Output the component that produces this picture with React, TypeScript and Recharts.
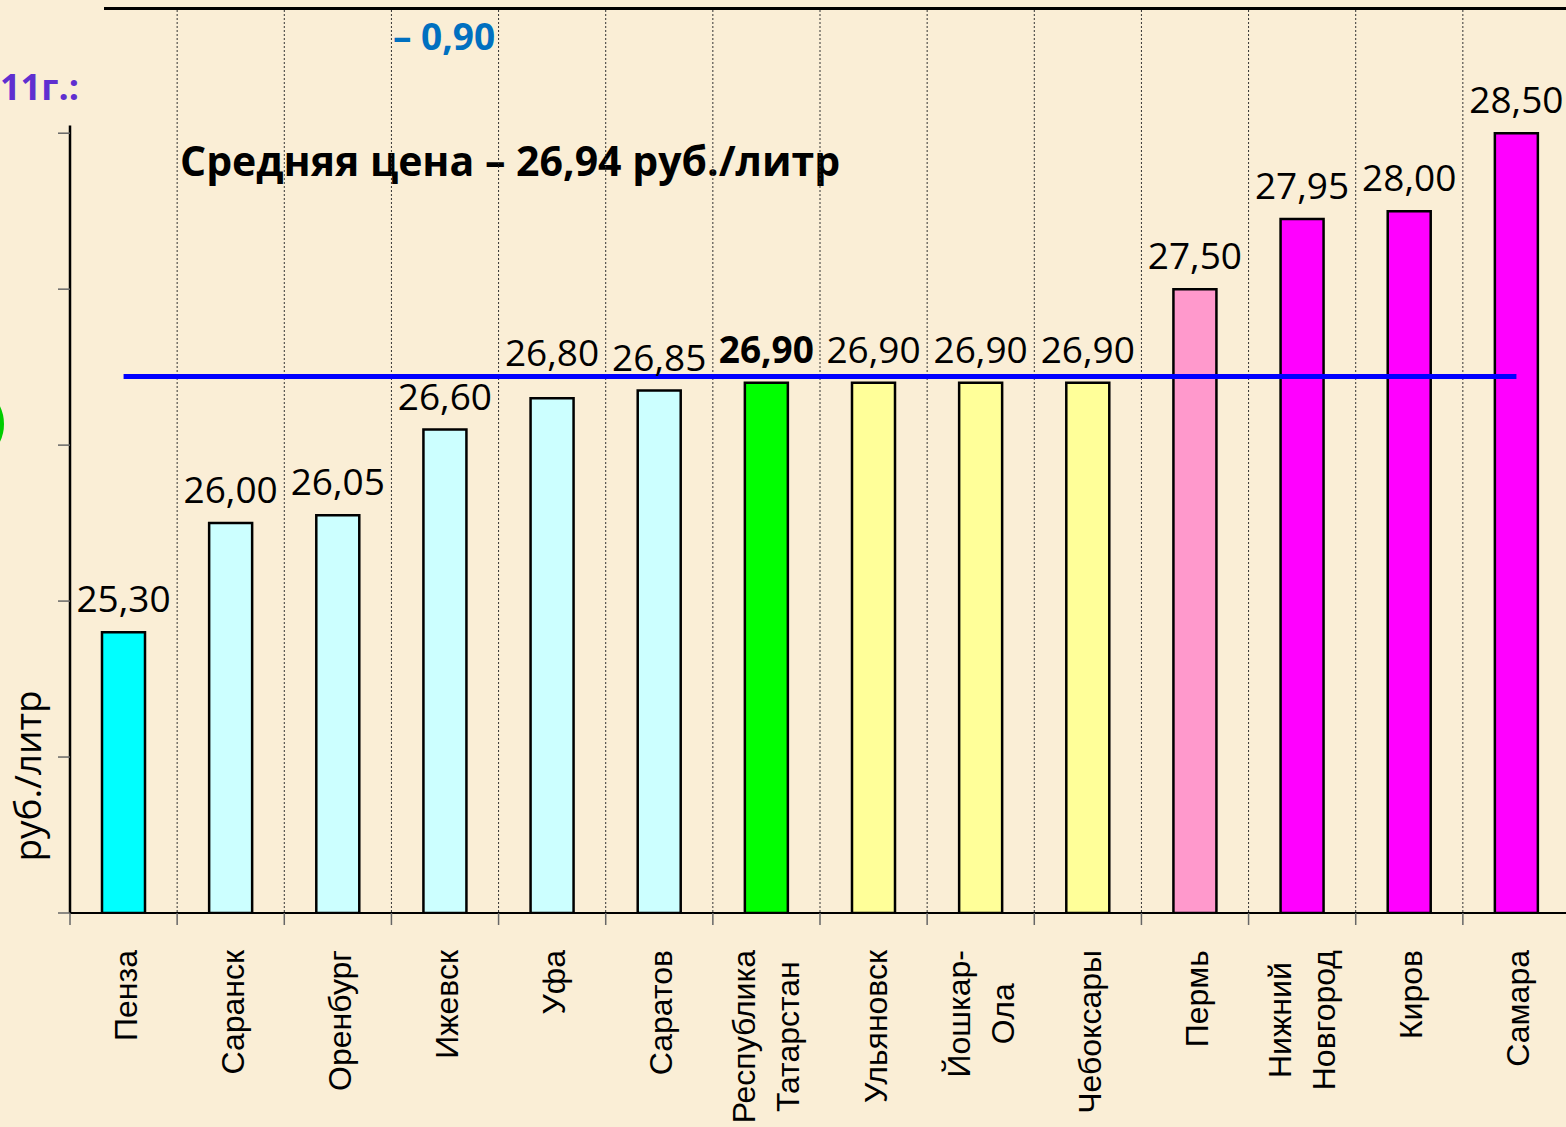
import React from "react";
import {
  BarChart,
  Bar,
  Cell,
  XAxis,
  YAxis,
  CartesianGrid,
  ReferenceLine,
  LabelList,
} from "recharts";

// regions (left to right) and average milk price, руб./литр
const categories = [
  "Пенза",
  "Саранск",
  "Оренбург",
  "Ижевск",
  "Уфа",
  "Саратов",
  "Республика Татарстан",
  "Ульяновск",
  "Йошкар-Ола",
  "Чебоксары",
  "Пермь",
  "Нижний Новгород",
  "Киров",
  "Самара",
];
const prices = [
  25.3, 26.0, 26.05, 26.6, 26.8, 26.85, 26.9, 26.9, 26.9, 26.9, 27.5, 27.95,
  28.0, 28.5,
];
const barColors = [
  "#00FFFF",
  "#CCFFFF",
  "#CCFFFF",
  "#CCFFFF",
  "#CCFFFF",
  "#CCFFFF",
  "#00FF00",
  "#FFFF99",
  "#FFFF99",
  "#FFFF99",
  "#FF99CC",
  "#FF00FF",
  "#FF00FF",
  "#FF00FF",
];

const averagePrice = 26.94;
const boldCategory = "Республика Татарстан";
const yTicks = [23.5, 24.5, 25.5, 26.5, 27.5, 28.5];
const yDomainMin = 23.5;
const yDomainMax = 29.29;
const yAxisLineTop = 28.55;

const data = categories.map((name, i) => ({
  name,
  price: prices[i],
  color: barColors[i],
}));

const fmt = (v: number) => v.toFixed(2).replace(".", ",");

const CHART_W = 1570;
const Y_AXIS_W = 70;
const STEP = (CHART_W - Y_AXIS_W) / categories.length;

const BG = "#FAEED6";
const LABEL_FONT = "'Open Sans', sans-serif";
const TICK_FONT = "'Liberation Sans', Arial, sans-serif";

let measureCtx: CanvasRenderingContext2D | null = null;
const measure = (s: string, font: string) => {
  if (!measureCtx) measureCtx = document.createElement("canvas").getContext("2d");
  if (!measureCtx) return s.length * 17;
  measureCtx.font = font;
  return measureCtx.measureText(s).width;
};

const splitLabel = (name: string) => {
  if (name.includes(" ")) return name.split(" ");
  if (name.includes("-")) {
    const [a, b] = name.split("-");
    return [a + "-", b];
  }
  return [name];
};

const CategoryTick = (props: any) => {
  const { x, y, payload, index } = props;
  const lines = splitLabel(String(payload.value));
  const top = y + 37;
  const left = x - STEP / 2;
  const marks = [left];
  if (index === categories.length - 1) marks.push(left + STEP);
  const tickMarks = marks.map((mx) => (
    <line
      key={mx}
      x1={mx}
      y1={y}
      x2={mx}
      y2={y + 12}
      stroke="#666"
      strokeWidth={1.5}
    />
  ));
  if (lines.length === 1) {
    return (
      <g>
        {tickMarks}
        <text
          x={x + 2}
          y={top}
          transform={`rotate(-90 ${x + 2} ${top})`}
          textAnchor="end"
          dominantBaseline="central"
          fontFamily={TICK_FONT}
          fontSize={32}
          fill="#000"
        >
          {lines[0]}
        </text>
      </g>
    );
  }
  const longest = Math.max(...lines.map((l) => measure(l, `32px ${TICK_FONT}`)));
  const cy = top + longest / 2;
  return (
    <g>
      {tickMarks}
      {lines.map((l, i) => {
        const lx = x + (i - (lines.length - 1) / 2) * 44;
        return (
          <text
            key={l}
            x={lx}
            y={cy}
            transform={`rotate(-90 ${lx} ${cy})`}
            textAnchor="middle"
            dominantBaseline="central"
            fontFamily={TICK_FONT}
            fontSize={32}
            fill="#000"
          >
            {l}
          </text>
        );
      })}
    </g>
  );
};

const ValueLabel = (props: any) => {
  const vb = props.viewBox || props;
  const { x, y, width, height } = vb;
  const { value, index } = props;
  const isBold = categories[index] === boldCategory;
  // keep the label clear of the average line
  const pxPerUnit = height / (Number(value) - yDomainMin);
  const meanY = y + height - (averagePrice - yDomainMin) * pxPerUnit;
  let baseY = y - 20;
  if (baseY > meanY - 2 && baseY - 28 < meanY) baseY = meanY - 11;
  return (
    <text
      x={x + width / 2}
      y={baseY}
      textAnchor="middle"
      fontFamily={LABEL_FONT}
      fontSize={37}
      fontWeight={isBold ? 700 : 400}
      fill="#000"
    >
      {fmt(Number(value))}
    </text>
  );
};

const App = () => {
  return (
    <div
      style={{
        position: "absolute",
        left: 0,
        top: 0,
        width: 1566,
        height: 1127,
        overflow: "hidden",
        background: BG,
      }}
    >
      {/* slide leftovers around the chart */}
      <svg
        width={1566}
        height={1127}
        style={{ position: "absolute", left: 0, top: 0 }}
      >
        <rect x={104} y={7} width={1462} height={3} fill="#000" />
        <text
          x={393}
          y={50}
          fontFamily={LABEL_FONT}
          fontWeight={700}
          fontSize={37}
          fill="#0070C0"
        >
          – 0,90
        </text>
        <text
          x={0}
          y={100}
          fontFamily={LABEL_FONT}
          fontWeight={700}
          fontSize={36}
          fill="#5F2FD0"
        >
          11г.:
        </text>
        <ellipse
          cx={-40}
          cy={424}
          rx={42}
          ry={40}
          fill="none"
          stroke="#00CC00"
          strokeWidth={4}
        />
        <text
          x={180}
          y={176}
          fontFamily={LABEL_FONT}
          fontWeight={700}
          fontSize={41}
          fill="#000"
        >
          Средняя цена – 26,94 руб./литр
        </text>
        <text
          x={41}
          y={776}
          transform="rotate(-90 41 776)"
          textAnchor="middle"
          fontFamily={LABEL_FONT}
          fontSize={37}
          fill="#000"
        >
          руб./литр
        </text>
      </svg>

      <div style={{ position: "absolute", left: 0, top: 0 }}>
        <BarChart
          width={CHART_W}
          height={1127}
          data={data}
          margin={{ top: 10, right: 0, left: 0, bottom: 0 }}
        >
          <CartesianGrid
            horizontal={false}
            stroke="#333"
            strokeDasharray="2 2"
            verticalCoordinatesGenerator={({ offset }: any) =>
              categories
                .map((_, i) => offset.left + (i + 1) * (offset.width / categories.length))
            }
          />
          <XAxis
            dataKey="name"
            height={214}
            interval={0}
            axisLine={{ stroke: "#000", strokeWidth: 2 }}
            tickLine={false}
            tickSize={0}
            tickMargin={0}
            tick={<CategoryTick />}
          />
          <XAxis
            xAxisId="edge"
            type="number"
            domain={[0, 1]}
            allowDataOverflow
            hide
          />
          <YAxis
            width={Y_AXIS_W}
            domain={[yDomainMin, yDomainMax]}
            ticks={yTicks}
            allowDataOverflow
            tickFormatter={() => ""}
            axisLine={false}
            tickSize={12}
            tickLine={{ stroke: "#666", strokeWidth: 1.5 }}
          />
          <Bar
            dataKey="price"
            barSize={43}
            stroke="#000"
            strokeWidth={2.5}
            isAnimationActive={false}
          >
            {data.map((d, i) => (
              <Cell key={`cell-${i}`} fill={d.color} />
            ))}
            <LabelList dataKey="price" content={<ValueLabel />} />
          </Bar>
          <ReferenceLine
            xAxisId="edge"
            segment={[
              { x: 0, y: yDomainMin },
              { x: 0, y: yAxisLineTop },
            ]}
            stroke="#000"
            strokeWidth={2.5}
            ifOverflow="visible"
          />
          <ReferenceLine
            segment={[
              { x: categories[0], y: averagePrice },
              { x: categories[categories.length - 1], y: averagePrice },
            ]}
            stroke="#0000FF"
            strokeWidth={5}
            ifOverflow="visible"
          />
        </BarChart>
      </div>
    </div>
  );
};

export default App;
